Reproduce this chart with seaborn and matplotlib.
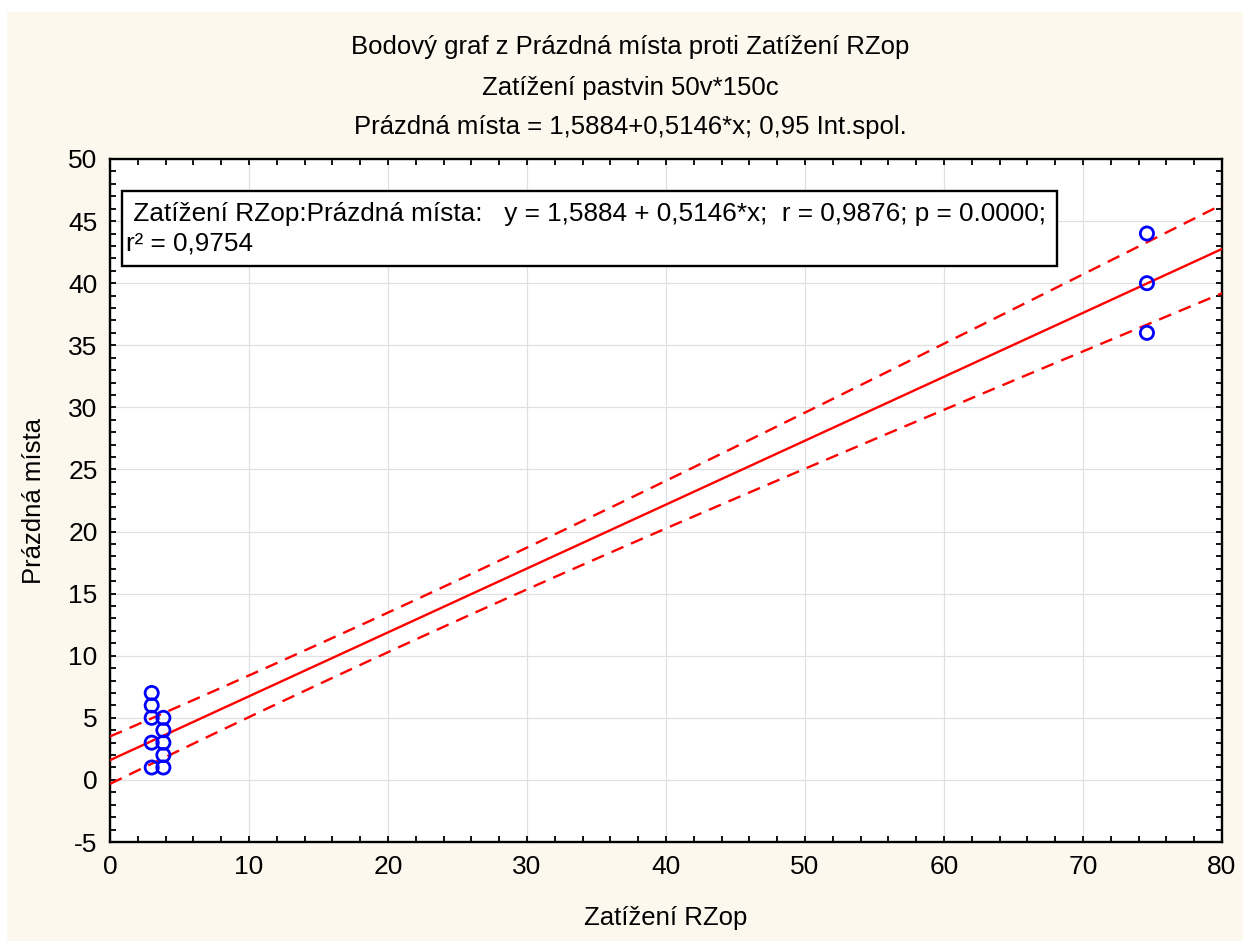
import numpy as np
import pandas as pd
import matplotlib
matplotlib.use("Agg")
import matplotlib.pyplot as plt
import seaborn as sns
from matplotlib.patches import Rectangle
from matplotlib.ticker import MultipleLocator

# ---- data ----
zatizeni_rzop = [3.0, 3.0, 3.0, 3.0, 3.0, 3.84, 3.84, 3.84, 3.84, 3.84, 74.6, 74.6, 74.6]
prazdna_mista = [7, 6, 5, 3, 1, 5, 4, 3, 2, 1, 44, 40, 36]
intercept = 1.5884
slope = 0.5146
r_value = 0.9876
r_squared = 0.9754
t_crit = 2.201  # t(0.975, n-2)

title_lines = ["Bodový graf z Prázdná místa proti Zatížení RZop",
               "Zatížení pastvin 50v*150c",
               "Prázdná místa = 1,5884+0,5146*x; 0,95 Int.spol."]
x_label = "Zatížení RZop"
y_label = "Prázdná místa"
box_text = (" Zatížení RZop:Prázdná místa:   y = 1,5884 + 0,5146*x;  r = 0,9876; p = 0.0000;\n"
            "r² = 0,9754")

df = pd.DataFrame({"x": zatizeni_rzop, "y": prazdna_mista})

# regression line & 95% confidence band
x_arr = np.asarray(zatizeni_rzop, float)
y_arr = np.asarray(prazdna_mista, float)
n = len(x_arr)
resid = y_arr - (intercept + slope * x_arr)
s = np.sqrt(np.sum(resid ** 2) / (n - 2))
xbar = x_arr.mean()
sxx = np.sum((x_arr - xbar) ** 2)
grid = np.linspace(0, 80, 161)
fit = intercept + slope * grid
half = t_crit * s * np.sqrt(1.0 / n + (grid - xbar) ** 2 / sxx)
band = pd.DataFrame({"x": grid, "fit": fit, "lo": fit - half, "hi": fit + half})

# ---- style ----
sns.set_style("white")
plt.rcParams["font.family"] = ["Liberation Sans", "DejaVu Sans"]
plt.rcParams["axes.unicode_minus"] = False
plt.rcParams["text.color"] = "black"
plt.rcParams["axes.labelcolor"] = "black"

FS = 18.5
W, H = 1243, 941
fig = plt.figure(figsize=(W / 100, H / 100), dpi=100, facecolor="white")
fig.patches.append(Rectangle((7 / W, 0), 1 - 7 / W, 1 - 12 / H, transform=fig.transFigure,
                             facecolor="#fdf8ee", edgecolor="none", zorder=-10))

ax = fig.add_axes([110 / W, 1 - 842 / H, (1222 - 110) / W, (842 - 159) / H])
ax.set_facecolor("white")

sns.lineplot(data=band, x="x", y="fit", ax=ax, color="#ff0000", lw=1.7, zorder=3)
sns.lineplot(data=band, x="x", y="hi", ax=ax, color="#ff0000", lw=1.7,
             linestyle=(0, (5.5, 3.5)), zorder=3)
sns.lineplot(data=band, x="x", y="lo", ax=ax, color="#ff0000", lw=1.7,
             linestyle=(0, (5.5, 3.5)), zorder=3)
sns.scatterplot(data=df, x="x", y="y", ax=ax, marker="o", s=90,
                facecolor="none", edgecolor="#0000ff", linewidth=2.0, zorder=4)

ax.set_xlim(0, 80)
ax.set_ylim(-5, 50)
ax.xaxis.set_major_locator(MultipleLocator(10))
ax.xaxis.set_minor_locator(MultipleLocator(2))
ax.yaxis.set_major_locator(MultipleLocator(5))
ax.yaxis.set_minor_locator(MultipleLocator(1))
ax.grid(True, which="major", color="#e0e0e0", lw=0.9, zorder=0)
ax.set_axisbelow(True)
for sp in ax.spines.values():
    sp.set_color("black")
    sp.set_linewidth(1.7)
    sp.set_visible(True)
ax.tick_params(which="both", direction="in", top=True, right=True, bottom=True, left=True,
               length=4, width=1.3, color="black", labelsize=19, pad=9, labelcolor="black")

ax.set_xlabel(x_label, fontsize=FS, labelpad=20)
ax.set_ylabel(y_label, fontsize=FS, labelpad=16)

ax.add_patch(Rectangle((12 / 1112, 1 - (266 - 159) / 683), (1057 - 122) / 1112, (266 - 191) / 683,
                       transform=ax.transAxes, facecolor="white", edgecolor="black",
                       lw=1.7, zorder=6))
ax.text(16 / 1112, 1 - (229 - 159) / 683, box_text, transform=ax.transAxes, fontsize=18.8,
        ha="left", va="center", linespacing=1.3, zorder=7)

for line, yy in zip(title_lines, [47, 88, 127]):
    fig.text(630 / W, 1 - yy / H, line, ha="center", va="center", fontsize=FS)

fig.savefig("out.png", dpi=100, facecolor=fig.get_facecolor())
